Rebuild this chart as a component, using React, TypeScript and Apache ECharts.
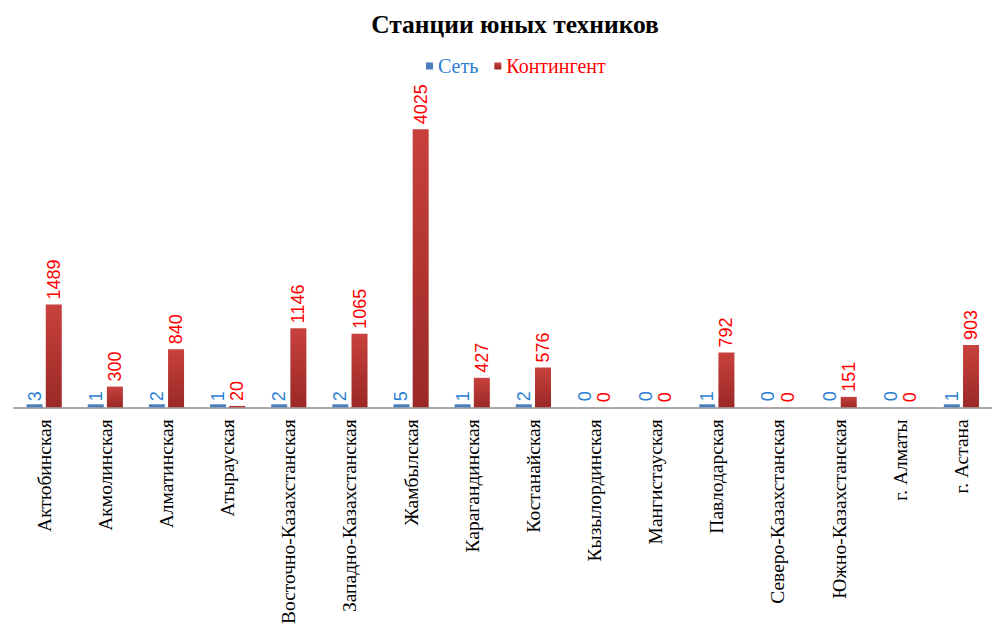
import React, { useEffect, useRef } from "react";
import * as echarts from "echarts";

const categories = [
  "Актюбинская",
  "Акмолинская",
  "Алматинская",
  "Атырауская",
  "Восточно-Казахстанская",
  "Западно-Казахстанская",
  "Жамбылская",
  "Карагандинская",
  "Костанайская",
  "Кызылординская",
  "Мангистауская",
  "Павлодарская",
  "Северо-Казахстанская",
  "Южно-Казахстанская",
  "г. Алматы",
  "г. Астана",
];
const network = [3, 1, 2, 1, 2, 2, 5, 1, 2, 0, 0, 1, 0, 0, 0, 1];
const contingent = [1489, 300, 840, 20, 1146, 1065, 4025, 427, 576, 0, 0, 792, 0, 151, 0, 903];

export default function App() {
  const ref = useRef<HTMLDivElement>(null);
  useEffect(() => {
    if (!ref.current) return;
    const chart = echarts.init(ref.current, undefined, { renderer: "svg" });
    const labelFont = "'Liberation Sans', Arial, sans-serif";
    const serif = "'Liberation Serif', 'Times New Roman', serif";
    chart.setOption({
      animation: false,
      backgroundColor: "#ffffff",
      title: {
        text: "Станции юных техников",
        left: 510,
        textAlign: "center",
        top: 6,
        textStyle: {
          fontFamily: serif,
          fontWeight: "bold",
          fontSize: 25.5,
          color: "#000",
        },
      },
      legend: {
        top: 51,
        left: 421,
        itemWidth: 7,
        itemHeight: 7,
        itemGap: 16,
        icon: "rect",
        data: [
          { name: "Сеть", textStyle: { color: "#2a7fd4", fontFamily: serif, fontSize: 20 } },
          { name: "Контингент", textStyle: { color: "#ff0000", fontFamily: serif, fontSize: 20 } },
        ],
        textStyle: { fontFamily: serif, fontSize: 20 },
      },
      grid: { left: 13.6, right: -9.6, top: 96.5, bottom: 222.7, containLabel: false },
      xAxis: {
        type: "category",
        data: categories,
        axisLine: { lineStyle: { color: "#8c8c8c", width: 1.5 } },
        axisTick: { show: false },
        axisLabel: {
          rotate: 90,
          interval: 0,
          margin: 12,
          fontFamily: serif,
          fontSize: 19.5,
          color: "#000",
        },
      },
      yAxis: {
        type: "value",
        min: 0,
        max: 4500,
        show: false,
        splitLine: { show: false },
      },
      series: [
        {
          name: "Сеть",
          type: "bar",
          barWidth: 16,
          barGap: "20%",
          barMinHeight: 3,
          itemStyle: { color: "#4a7ebb" },
          data: network.map((v) =>
            v === 0 ? { value: v, itemStyle: { color: "rgba(0,0,0,0)" } } : v
          ),
          label: {
            show: true,
            position: "top",
            rotate: 90,
            align: "left",
            verticalAlign: "middle",
            distance: 3,
            color: "#2a7fd4",
            fontFamily: labelFont,
            fontSize: 18,
          },
        },
        {
          name: "Контингент",
          type: "bar",
          barWidth: 16,
          itemStyle: {
            color: new echarts.graphic.LinearGradient(0, 0, 0, 1, [
              { offset: 0, color: "#c8413d" },
              { offset: 1, color: "#9a2926" },
            ]),
          },
          data: contingent,
          label: {
            show: true,
            position: "top",
            rotate: 90,
            align: "left",
            verticalAlign: "middle",
            distance: 5,
            color: "#ff0000",
            fontFamily: labelFont,
            fontSize: 18,
          },
        },
      ],
    });
    return () => chart.dispose();
  }, []);
  return (
    <div
      ref={ref}
      style={{ width: 992, height: 630, position: "absolute", left: 0, top: 0, overflow: "hidden" }}
    />
  );
}
